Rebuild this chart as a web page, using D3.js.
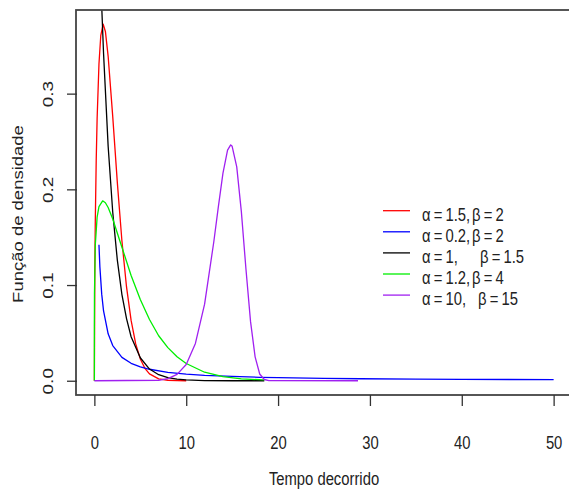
<!DOCTYPE html>
<html>
<head>
<meta charset="utf-8">
<style>
  body { margin: 0; background: #fff; }
  svg { display: block; }
  text { font-family: "Liberation Sans", Arial, sans-serif; fill: #222; }
</style>
</head>
<body>
<svg id="chart" width="569" height="493"></svg>
<script src="https://d3js.org/d3.v7.min.js"></script>
<script>
// Weibull densities (time, density)
var tRed   = [0, 0.05, 0.1, 0.2, 0.3, 0.5, 0.7, 0.96, 1.2, 1.5, 2, 2.5, 3, 3.5, 4, 4.5, 5, 5.5, 6, 7, 8, 10];
var dRed   = [0, 0.118, 0.166, 0.230, 0.274, 0.331, 0.361, 0.3725, 0.365, 0.339, 0.276, 0.207, 0.146, 0.098, 0.063, 0.0385, 0.0228, 0.013, 0.0072, 0.002, 0.0005, 0];

var tBlue  = [0.5, 0.6, 0.8, 1, 1.5, 2, 3, 4, 5, 6, 8, 10, 12, 15, 18, 20, 25, 29, 35, 40, 50];
var dBlue  = [0.142, 0.119, 0.0905, 0.0729, 0.049, 0.0368, 0.0244, 0.0182, 0.0145, 0.012, 0.0088, 0.007, 0.0057, 0.0045, 0.0036, 0.0033, 0.0025, 0.0021, 0.0017, 0.0015, 0.0011];

var tBlack = [0, 0.5, 0.8, 1, 1.5, 2, 2.5, 3, 3.5, 4, 5, 6, 7, 8, 9, 10, 12, 15, 18.5];
var dBlack = [0.667, 0.478, 0.391, 0.342, 0.245, 0.176, 0.126, 0.090, 0.065, 0.046, 0.024, 0.0122, 0.0063, 0.0032, 0.0017, 0.0009, 0.0002, 0, 0];

var tGreen = [0, 0.001, 0.01, 0.1, 0.3, 0.5, 0.9, 1.2, 1.5, 2, 3, 4, 5, 6, 7, 8, 9, 10, 12, 14, 16, 18.5];
var dGreen = [0, 0.057, 0.0905, 0.142, 0.171, 0.182, 0.188, 0.186, 0.181, 0.169, 0.1395, 0.110, 0.085, 0.064, 0.047, 0.0346, 0.025, 0.018, 0.0089, 0.0043, 0.002, 0.0008];

var tPurple = [0, 7, 8, 9, 10, 11, 12, 13, 13.5, 14, 14.5, 14.84, 15, 15.5, 16, 16.5, 17, 17.5, 18, 18.5, 19, 28.7];
var dPurple = [0, 0.0005, 0.0023, 0.0067, 0.017, 0.039, 0.080, 0.145, 0.182, 0.217, 0.241, 0.2465, 0.245, 0.2235, 0.177, 0.117, 0.062, 0.025, 0.007, 0.0013, 0.0001, 0];

var seriesColors = ["#ff0000", "#0000ff", "#000000", "#00ee00", "#a020f0"];
var legendLeft  = ["\u03b1 = 1.5,", "\u03b1 = 0.2,", "\u03b1 = 1,", "\u03b1 = 1.2,", "\u03b1 = 10,"];
var legendRight = ["\u03b2 = 2", "\u03b2 = 2", "\u03b2 = 1.5", "\u03b2 = 4", "\u03b2 = 15"];

var xTicks = [0, 10, 20, 30, 40, 50];
var yTicks = [0, 0.1, 0.2, 0.3];

var xTitle = "Tempo decorrido";
var yTitle = "Fun\u00e7\u00e3o de densidade";

// picture is squeezed horizontally, so text gets a narrow look
var squeeze = 0.78;
var fontSize = 19;

var svg = d3.select('#chart');
var pLeft = 76, pRight = 572, pTop = 10, pBottom = 395;

var x = d3.scaleLinear().domain([-2, 52]).range([pLeft, pRight]);
var y = d3.scaleLinear().domain([-0.0149, 0.3874]).range([pBottom, pTop]);

svg.append('defs').append('clipPath').attr('id', 'plotclip')
  .append('rect')
  .attr('x', pLeft).attr('y', pTop)
  .attr('width', pRight - pLeft).attr('height', pBottom - pTop);

// curves
var table = [
  {t: tRed, d: dRed},
  {t: tBlue, d: dBlue},
  {t: tBlack, d: dBlack},
  {t: tGreen, d: dGreen},
  {t: tPurple, d: dPurple}
];

var line = d3.line()
  .x(function(p) { return x(p[0]) })
  .y(function(p) { return y(p[1]) });

svg.append('g').attr('clip-path', 'url(#plotclip)')
  .selectAll('path')
  .data(table)
  .enter()
  .append('path')
  .attr('d', function(s) { return line(s.t.map(function(t, i) { return [t, s.d[i]] })) })
  .attr('fill', 'none')
  .attr('stroke', function(s, i) { return seriesColors[i] })
  .attr('stroke-width', 1.3)
  .attr('stroke-linejoin', 'round');

// box
svg.append('rect')
  .attr('x', pLeft).attr('y', pTop)
  .attr('width', pRight - pLeft).attr('height', pBottom - pTop)
  .attr('fill', 'none')
  .attr('stroke', '#444')
  .attr('stroke-width', 1.8);

// x axis
var xAxis = svg.append('g')
  .attr('transform', 'translate(0,' + pBottom + ')')
  .call(d3.axisBottom(x).tickValues(xTicks).tickSize(11).tickFormat(d3.format('d')));
xAxis.select('.domain').remove();
xAxis.selectAll('line').attr('stroke', '#333').attr('stroke-width', 1.3);
xAxis.selectAll('text')
  .attr('x', null).attr('y', null).attr('dy', null)
  .attr('transform', 'translate(0,54) scale(' + squeeze + ',1)')
  .style('font-size', fontSize + 'px')
  .style('font-family', '"Liberation Sans", Arial, sans-serif')
  .attr('fill', '#222');

// y axis
var yAxis = svg.append('g')
  .attr('transform', 'translate(' + (pLeft + 1) + ',0)')
  .call(d3.axisLeft(y).tickValues(yTicks).tickSize(10).tickFormat(d3.format('.1f')));
yAxis.select('.domain').remove();
yAxis.selectAll('line').attr('stroke', '#333').attr('stroke-width', 1.3);
yAxis.selectAll('text')
  .attr('x', null).attr('y', null).attr('dy', null)
  .attr('text-anchor', 'middle')
  .attr('transform', 'translate(-24,0) rotate(-90) scale(1,' + squeeze + ')')
  .style('font-size', fontSize + 'px')
  .style('font-family', '"Liberation Sans", Arial, sans-serif')
  .attr('fill', '#222');

// titles
svg.append('text')
  .attr('text-anchor', 'middle')
  .attr('transform', 'translate(' + ((pLeft + pRight) / 2) + ',485) scale(' + squeeze + ',1)')
  .style('font-size', fontSize + 'px')
  .text(xTitle);

svg.append('text')
  .attr('text-anchor', 'middle')
  .attr('transform', 'translate(23,214) rotate(-90) scale(1,' + squeeze + ')')
  .style('font-size', '18.5px')
  .text(yTitle);

// legend
var legY0 = 210.7, legStep = 21.1;
var betaX = [472, 472, 480, 472, 478];

function tokens(sel, str) {
  str.split(' ').forEach(function(tok, i) {
    sel.append('tspan').attr('dx', i ? 4 : 0).text(tok);
  });
}

var leg = svg.append('g');
seriesColors.forEach(function(c, i) {
  var ly = legY0 + i * legStep;
  leg.append('line')
    .attr('x1', 383).attr('x2', 410)
    .attr('y1', ly).attr('y2', ly)
    .attr('stroke', c).attr('stroke-width', 1.3);
  var a = leg.append('text')
    .attr('transform', 'translate(422,' + (ly + 10) + ') scale(' + squeeze + ',1)')
    .style('font-size', fontSize + 'px');
  tokens(a, legendLeft[i]);
  var b = leg.append('text')
    .attr('transform', 'translate(' + betaX[i] + ',' + (ly + 10) + ') scale(' + squeeze + ',1)')
    .style('font-size', fontSize + 'px');
  tokens(b, legendRight[i]);
});
</script>
</body>
</html>
